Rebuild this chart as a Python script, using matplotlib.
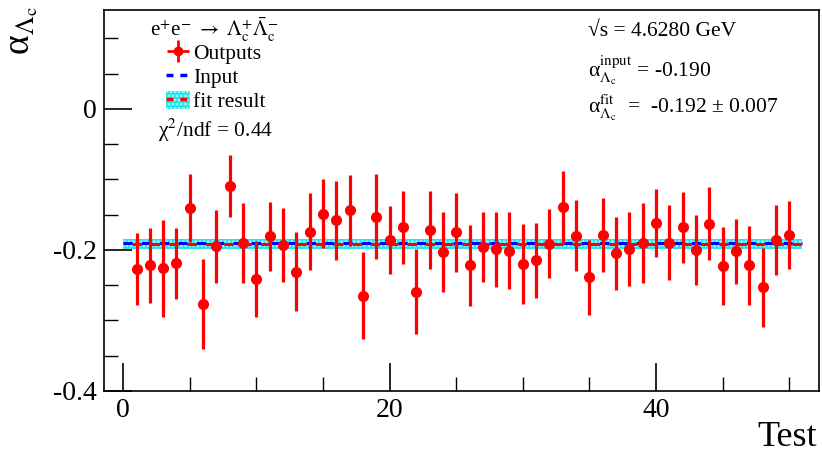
import matplotlib
matplotlib.use("Agg")
import matplotlib.pyplot as plt
import numpy as np
from matplotlib.lines import Line2D
from matplotlib.patches import Patch

plt.rcParams['font.family'] = ['Liberation Serif', 'DejaVu Serif']
plt.rcParams['mathtext.fontset'] = 'stix'
plt.rcParams['hatch.linewidth'] = 1.2

# toy tests: fitted alpha and its error for each test
tests = np.arange(1, 51)
alpha_out = [-0.227, -0.222, -0.226, -0.219, -0.141, -0.277, -0.195, -0.110, -0.190, -0.241,
             -0.181, -0.193, -0.231, -0.174, -0.149, -0.158, -0.144, -0.265, -0.153, -0.186,
             -0.168, -0.259, -0.172, -0.203, -0.175, -0.222, -0.196, -0.199, -0.201, -0.220,
             -0.215, -0.191, -0.139, -0.180, -0.239, -0.179, -0.205, -0.199, -0.190, -0.162,
             -0.190, -0.168, -0.200, -0.163, -0.223, -0.202, -0.222, -0.253, -0.186, -0.179]
alpha_err = [0.051, 0.053, 0.069, 0.050, 0.048, 0.064, 0.052, 0.044, 0.057, 0.054,
             0.049, 0.052, 0.056, 0.054, 0.049, 0.056, 0.050, 0.062, 0.060, 0.048,
             0.052, 0.060, 0.055, 0.056, 0.056, 0.057, 0.049, 0.053, 0.054, 0.057,
             0.053, 0.049, 0.051, 0.050, 0.053, 0.053, 0.052, 0.052, 0.057, 0.048,
             0.053, 0.050, 0.050, 0.052, 0.055, 0.046, 0.056, 0.056, 0.049, 0.048]

alpha_input = -0.190
alpha_fit = -0.192
alpha_fit_err = 0.007
band_x = [0, 51]

band_face = '#20e6ee'
band_hatch = '#b8fbff'

fig = plt.figure(figsize=(8.22, 4.55), dpi=100)
ax = fig.add_axes([103.5 / 822, 1 - 391 / 455, (819 - 103.5) / 822, (391 - 10) / 455])

# fit band + lines
ax.fill_between(band_x, alpha_fit - alpha_fit_err, alpha_fit + alpha_fit_err,
                facecolor=band_face, edgecolor=band_hatch, hatch='....', linewidth=0, zorder=1)
ax.plot(band_x, [alpha_input, alpha_input], color='blue', lw=2.2, ls=(0, (3, 3)), zorder=2)
ax.plot(band_x, [alpha_fit, alpha_fit], color='red', lw=2.2, ls=(3, (3, 3)), zorder=2)

ax.errorbar(tests, alpha_out, yerr=alpha_err, fmt='o', color='red', ms=7,
            elinewidth=2.3, capsize=0, zorder=3)

ax.set_xlim(-1.48, 52.24)
ax.set_ylim(-0.4, 0.14)
ax.set_xticks([0, 20, 40])
ax.set_xticks(np.arange(0, 55, 5), minor=True)
ax.set_yticks([-0.4, -0.2, 0])
ax.set_yticklabels(['-0.4', '-0.2', '0'])
ax.set_yticks(np.arange(-0.4, 0.15, 0.05), minor=True)
ax.tick_params(which='both', direction='in', labelsize=20, top=False, right=False)
ax.tick_params(which='major', length=20, width=1.2, pad=5)
ax.tick_params(which='minor', length=10, width=1)
for s in ax.spines.values():
    s.set_linewidth(1.2)

fig.text(817 / 822, 1 - 446 / 455, 'Test', ha='right', va='baseline', fontsize=26)
fig.text(6 / 822, 1 - 6 / 455, r'α$_{\Lambda_{\mathrm{c}}}$', rotation=90,
         ha='left', va='top', fontsize=27)

# legend
fig.text(214 / 822, 1 - 30 / 455,
         r'e$^{+}$e$^{-}$ $\rightarrow$ $\Lambda_{\mathrm{c}}^{+}\bar{\Lambda}_{\mathrm{c}}^{-}$',
         ha='center', va='center', fontsize=15)
h_out = (Line2D([], [], marker='o', color='red', ls='none', ms=6),
         Line2D([], [], marker='+', color='red', ls='none', ms=16, mew=2))
h_in = Line2D([], [], color='blue', lw=2.5, ls=(0, (2, 2)))
h_fit = (Patch(facecolor=band_face, edgecolor=band_hatch, hatch='....', lw=0),
         Line2D([], [], color='red', lw=2.5, ls=(0, (2, 2))))
ax.legend([h_out, h_in, h_fit], ['Outputs', 'Input', 'fit result'],
          loc='upper left', bbox_to_anchor=(166 / 822, 1 - 43 / 455),
          bbox_transform=fig.transFigure, frameon=False, fontsize=15.5,
          handlelength=1.1, handleheight=0.9, handletextpad=0.15, labelspacing=0.12,
          borderpad=0, borderaxespad=0)
fig.text(158 / 822, 1 - 130 / 455, r'χ$^{2}$/ndf = 0.44', ha='left', va='center', fontsize=15.5)

# fit summary
fig.text(588 / 822, 1 - 32 / 455, '√s = 4.6280 GeV', ha='left', va='center', fontsize=15.5)
fig.text(588 / 822, 1 - 70 / 455, r'α$_{\Lambda_{\mathrm{c}}}^{\mathrm{input}}$ = %.3f' % alpha_input,
         ha='left', va='center', fontsize=15.5)
fig.text(588 / 822, 1 - 108 / 455,
         r'α$_{\Lambda_{\mathrm{c}}}^{\mathrm{fit}}$  =  %.3f ± %.3f' % (alpha_fit, alpha_fit_err),
         ha='left', va='center', fontsize=15.5)

fig.savefig('out.png', dpi=100)
